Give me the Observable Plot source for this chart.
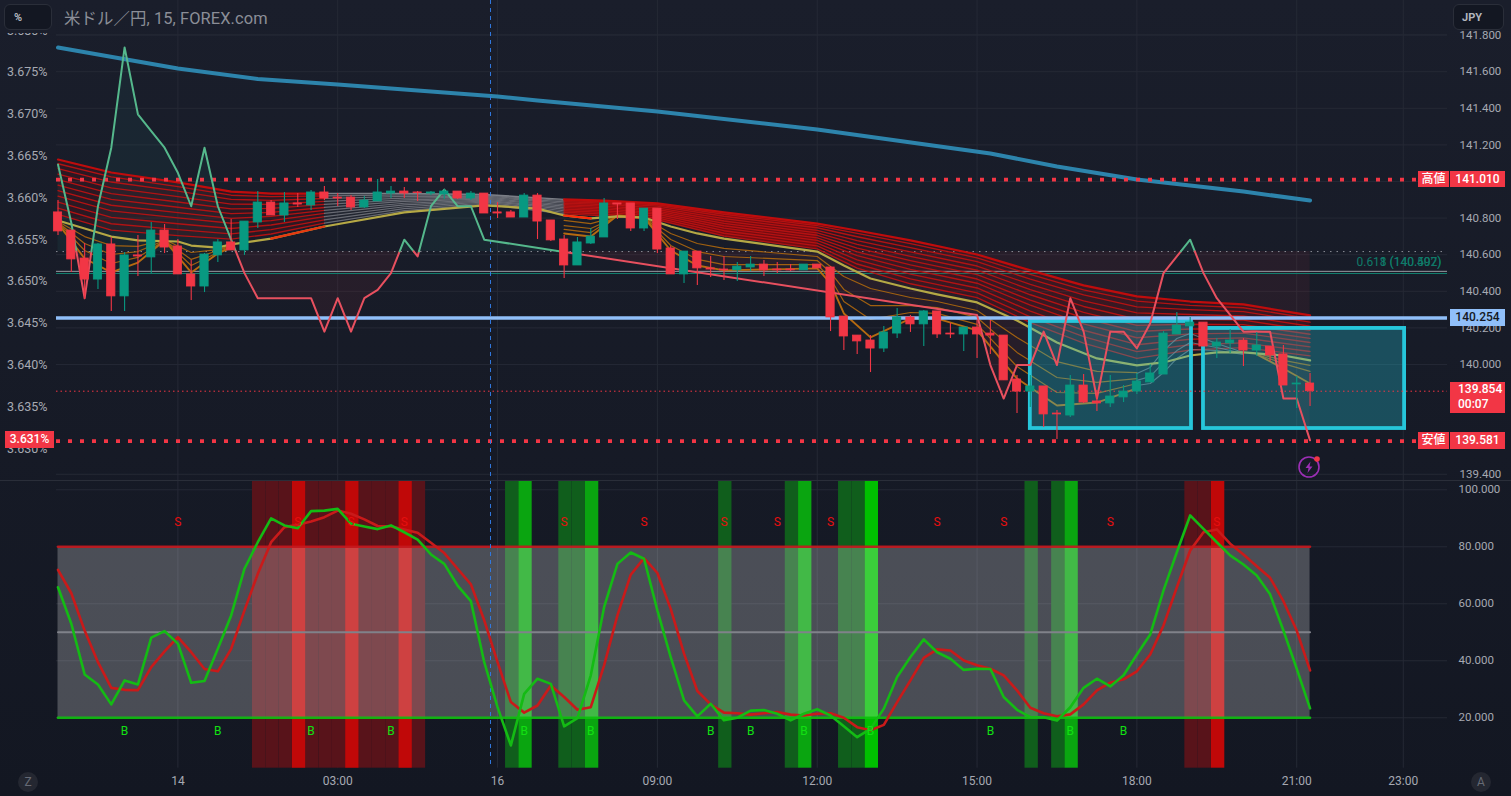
<!DOCTYPE html>
<html lang="ja"><head><meta charset="utf-8">
<script src="https://cdn.jsdelivr.net/npm/d3@7"></script>
<script src="https://cdn.jsdelivr.net/npm/@observablehq/plot@0.6"></script>
<style>
html,body{margin:0;padding:0;width:1511px;height:796px;overflow:hidden;background:linear-gradient(180deg,#1a1e2b 0%,#131722 100%);font-family:Roboto,"Noto Sans CJK JP",sans-serif}
#stage{position:relative;width:1511px;height:796px}
#stage svg.plot-pane,#stage>div.pane{position:absolute;left:0}
.tag{position:absolute;box-sizing:border-box;display:flex;align-items:center;justify-content:center;font-size:12px;font-weight:500;color:#fff;background:#f23645;white-space:pre;line-height:15px;text-align:left}
.cover{position:absolute;top:0;background:#1a1e2b}
.btn{position:absolute;top:4px;height:26px;box-sizing:border-box;border:1.5px solid #2a2e39;border-radius:6px;background:#131722;color:#b2b5be;font-size:11px;font-weight:700;display:flex;align-items:center}
#title{position:absolute;left:64px;top:8px;font-size:16.4px;line-height:22px;color:#8b8e97;letter-spacing:.1px}
.round{position:absolute;width:20px;height:20px;border-radius:50%;background:#242731;color:#666a75;font-size:12px;display:flex;align-items:center;justify-content:center}
</style></head><body><div id="stage"></div>
<script>
// ---------- price candles (USD/JPY, 15 min) ----------
const opens=[140.831,140.732,140.579,140.464,140.656,140.372,140.596,140.585,140.732,140.645,
140.492,140.426,140.596,140.667,140.623,140.776,140.885,140.814,140.880,140.869,
140.940,140.912,140.912,140.858,140.891,140.934,140.945,140.940,140.934,140.929,
140.945,140.907,140.934,140.831,140.831,140.803,140.923,140.787,140.683,140.541,
140.661,140.694,140.880,140.880,140.743,140.852,140.634,140.492,140.617,140.525,
140.519,140.514,140.530,140.546,140.519,140.519,140.514,140.546,140.530,140.262,
140.158,140.131,140.087,140.169,140.257,140.219,140.290,140.169,140.164,140.202,
140.169,140.158,139.918,139.852,139.880,139.732,139.721,139.885,139.798,139.787,
139.820,139.852,139.902,139.945,140.164,140.208,140.229,140.098,140.115,140.131,
140.076,140.098,140.055,139.891,139.896];
const highs=[140.896,140.732,140.661,140.661,140.694,140.612,140.705,140.776,140.765,140.683,
140.568,140.607,140.683,140.792,140.781,140.945,140.896,140.940,140.934,140.951,
140.973,140.934,140.923,140.918,141.011,140.973,140.967,140.945,140.945,140.956,
140.945,140.945,140.934,140.885,140.841,140.934,140.934,140.787,140.705,140.694,
140.743,140.907,140.880,140.880,140.852,140.852,140.645,140.617,140.617,140.590,
140.590,140.557,140.590,140.568,140.557,140.546,140.546,140.546,140.535,140.262,
140.158,140.158,140.208,140.306,140.268,140.295,140.290,140.224,140.202,140.240,
140.240,140.158,139.940,139.940,139.880,139.749,139.940,139.945,139.858,139.940,
139.885,139.951,140.000,140.180,140.284,140.257,140.229,140.142,140.191,140.142,
140.175,140.098,140.104,139.934,139.951];
const lows=[140.705,140.503,140.355,140.410,140.290,140.290,140.481,140.497,140.607,140.492,
140.350,140.393,140.557,140.623,140.596,140.743,140.814,140.776,140.858,140.841,
140.896,140.863,140.841,140.852,140.891,140.907,140.907,140.891,140.923,140.902,
140.902,140.896,140.825,140.798,140.803,140.803,140.683,140.672,140.470,140.541,
140.656,140.694,140.792,140.727,140.727,140.607,140.492,140.443,140.432,140.475,
140.459,140.454,140.508,140.481,140.497,140.508,140.514,140.525,140.180,140.076,
140.055,139.956,140.066,140.142,140.175,140.098,140.142,140.142,140.071,140.033,
140.055,139.913,139.732,139.765,139.656,139.590,139.710,139.787,139.743,139.765,
139.792,139.836,139.902,139.945,140.164,140.208,140.098,140.033,140.060,139.989,
140.044,140.016,139.885,139.760,139.771];
const closes=[140.727,140.574,140.464,140.656,140.372,140.596,140.590,140.732,140.639,140.492,
140.426,140.601,140.667,140.623,140.781,140.885,140.814,140.880,140.874,140.940,
140.907,140.907,140.858,140.896,140.940,140.945,140.934,140.937,140.940,140.945,
140.907,140.934,140.825,140.825,140.803,140.923,140.781,140.678,140.541,140.667,
140.699,140.880,140.874,140.743,140.852,140.628,140.492,140.617,140.525,140.519,
140.514,140.535,140.546,140.514,140.514,140.514,140.546,140.525,140.257,140.153,
140.126,140.087,140.175,140.257,140.219,140.290,140.164,140.164,140.202,140.164,
140.158,139.913,139.852,139.880,139.727,139.727,139.885,139.792,139.787,139.825,
139.852,139.907,139.951,140.169,140.213,140.229,140.098,140.120,140.131,140.076,
140.104,140.049,139.885,139.896,139.854];

// ---------- slow moving average ----------
const maBars=[0,9,15,21,33,36,45,57,70,75,81,89,94];
const maPrice=[141.732,141.617,141.560,141.530,141.465,141.443,141.383,141.284,141.153,141.082,141.011,140.945,140.896];

// ---------- yield line (% axis) ----------
const yieldBars=[0,1,2,3,4,5,6,7,8,9,10,11,12,13,14,15,16,17,18,19,20,21,22,23,24,25,26,27,28,29,30,31,32,69,70,71,72,73,74,75,76,77,78,79,80,81,82,83,84,85,86,87,88,89,90,91,92,93,94];
const yieldPct=[3.664,3.657,3.648,3.659,3.666,3.678,3.670,3.668,3.666,3.663,3.659,3.666,3.659,3.655,3.651,3.648,3.648,3.648,3.648,3.648,3.644,3.648,3.644,3.648,3.649,3.651,3.655,3.653,3.659,3.661,3.659,3.659,3.655,3.646,3.640,3.636,3.640,3.640,3.644,3.640,3.648,3.644,3.636,3.644,3.644,3.642,3.645,3.651,3.653,3.655,3.651,3.648,3.646,3.644,3.644,3.644,3.636,3.636,3.631];
const yieldLevel=3.6536;
const pctTicks=[3.68,3.675,3.67,3.665,3.66,3.655,3.65,3.645,3.64,3.635,3.63];
const priceTicks=[141.8,141.6,141.4,141.2,140.8,140.6,140.4,140.2,140.0,139.4];

// ---------- moving-average ribbon ----------
const ribbonBars=[0,4,9,13,16,20,26,32,38,41,45,50,57,60,64,69,73,77,81,85,89,94];
const ribbonTop=[141.120,141.049,140.995,140.945,140.934,140.934,140.934,140.929,140.902,140.896,140.880,140.831,140.770,140.732,140.678,140.601,140.514,140.432,140.372,140.344,140.328,140.268];
const ribbon01=[141.097,141.025,140.972,140.925,140.917,140.921,140.927,140.925,140.896,140.889,140.873,140.821,140.759,140.716,140.660,140.583,140.492,140.408,140.346,140.323,140.310,140.251];
const ribbon02=[141.070,140.997,140.947,140.902,140.897,140.907,140.919,140.920,140.889,140.882,140.865,140.810,140.747,140.698,140.639,140.562,140.466,140.380,140.315,140.300,140.289,140.231];
const ribbon03=[141.040,140.965,140.917,140.876,140.875,140.891,140.909,140.915,140.881,140.874,140.856,140.797,140.733,140.677,140.615,140.538,140.438,140.348,140.282,140.273,140.265,140.209];
const ribbon04=[141.010,140.934,140.888,140.850,140.853,140.875,140.900,140.909,140.873,140.865,140.847,140.784,140.719,140.656,140.591,140.515,140.409,140.317,140.248,140.247,140.242,140.187];
const ribbon05=[140.980,140.902,140.859,140.824,140.831,140.858,140.891,140.904,140.865,140.857,140.838,140.771,140.706,140.636,140.568,140.491,140.381,140.285,140.214,140.220,140.218,140.165];
const ribbon06=[140.950,140.870,140.830,140.798,140.809,140.842,140.881,140.898,140.857,140.849,140.830,140.758,140.692,140.615,140.544,140.467,140.352,140.254,140.180,140.194,140.194,140.143];
const ribbon07=[140.920,140.839,140.801,140.772,140.786,140.826,140.872,140.893,140.849,140.840,140.821,140.745,140.678,140.595,140.520,140.444,140.324,140.222,140.146,140.167,140.171,140.120];
const ribbon08=[140.887,140.804,140.769,140.743,140.762,140.808,140.862,140.887,140.840,140.831,140.811,140.731,140.663,140.572,140.494,140.418,140.292,140.187,140.108,140.138,140.145,140.096];
const ribbon09=[140.854,140.769,140.737,140.714,140.737,140.790,140.852,140.881,140.832,140.822,140.801,140.717,140.648,140.549,140.468,140.391,140.260,140.152,140.070,140.108,140.118,140.071];
const ribbon10=[140.820,140.734,140.704,140.685,140.713,140.772,140.841,140.875,140.823,140.812,140.791,140.702,140.632,140.526,140.441,140.365,140.229,140.117,140.033,140.079,140.092,140.047];
const ribbonInner=[ribbon01,ribbon02,ribbon03,ribbon04,ribbon05,ribbon06,ribbon07,ribbon08,ribbon09,ribbon10];
const yellowBars=[0,2,4,6,9,10,12,13,16,20,26,32,36,38,40,42,44,46,48,50,57,58,59,61,64,66,69,72,75,78,81,83,85,87,89,92,94];
const yellowPrice=[140.787,140.743,140.699,140.678,140.672,140.650,140.639,140.656,140.688,140.754,140.831,140.869,140.852,140.814,140.798,140.809,140.803,140.754,140.716,140.688,140.617,140.579,140.541,140.470,140.415,140.383,140.339,140.240,140.120,140.033,139.995,140.011,140.049,140.066,140.066,140.049,140.022];

// orange fast lines, three stretches
const orangeBarsA=[0,2,4,6,8,10,12,13];
const orangeA1=[140.781,140.699,140.650,140.645,140.683,140.612,140.628,140.650];
const orangeA2=[140.776,140.661,140.601,140.617,140.678,140.574,140.623,140.645];
const orangeA3=[140.776,140.623,140.552,140.585,140.678,140.541,140.612,140.645];
const orangeA4=[140.770,140.579,140.503,140.557,140.678,140.503,140.607,140.639];
const orangeBarsB=[38,40,42,44,46,48,50,57,58,59,61,64,66,69,72,75,78,81];
const orangeB1=[140.787,140.770,140.809,140.803,140.716,140.661,140.634,140.590,140.535,140.481,140.415,140.366,140.344,140.295,140.148,140.016,139.962,139.956];
const orangeB2=[140.759,140.743,140.809,140.803,140.683,140.617,140.590,140.568,140.503,140.410,140.322,140.322,140.311,140.257,140.066,139.929,139.902,139.923];
const orangeB3=[140.738,140.721,140.814,140.803,140.650,140.574,140.546,140.546,140.470,140.344,140.246,140.284,140.279,140.219,139.989,139.847,139.842,139.896];
const orangeB4=[140.716,140.699,140.814,140.803,140.623,140.541,140.514,140.525,140.443,140.279,140.148,140.251,140.251,140.186,139.923,139.776,139.792,139.869];
const orangeBarsC=[90,92,94];
const orangeC1=[140.060,140.022,139.995];
const orangeC2=[140.055,140.005,139.962];
const orangeC3=[140.055,139.978,139.896];
// gray lines where the fast averages cross above
const grayBars=[81,82,83,84,85,87,89];
const gray1=[139.951,139.984,140.076,140.142,140.169,140.115,140.066];
const gray2=[139.913,139.934,140.011,140.076,140.120,140.093,140.060];
const gray3=[139.885,139.896,139.956,140.033,140.082,140.076,140.055];

// ---------- levels ----------
const highLevel=141.010, lowLevel=139.581, lastPrice=139.854, blueLevel=140.254;
const fibLevels=[140.509,140.497], fibDotted=140.617;
const boxes=[{x1:73,x2:85.1,y1:139.650,y2:140.235},{x1:86,x2:101.1,y1:139.650,y2:140.197}];
const sessionBar=32.47;
const gridBars=[9,21,33,45,57,69,81,93,101];
const gridLabels=["14","03:00","16","09:00","12:00","15:00","18:00","21:00","23:00"];

// ---------- stochastic ----------
const stochK=[65.8,53,35.2,31.7,24.7,33.1,31.7,48.1,50.4,46,32.3,32.9,44.2,55.9,72.3,81.6,90,87.5,86.5,92.5,92.7,93.3,88.1,87.1,86.2,87.5,85.1,82.5,77.3,74,66.4,60.9,39.5,23.7,10.3,28.4,33.7,31.9,17,19.9,34.9,58.8,74,78,75.8,57.7,41.3,26.1,20.5,24.9,19.1,20,22.5,22.7,21.4,19.1,21.4,23,20.8,17,13.2,16.1,23.2,34.3,41.3,47.5,43,40.7,36.8,37.2,37.1,27.3,22.8,20.2,20.2,19,23.7,30.5,33.7,31,34.9,42.2,49.2,64.7,78.1,91,86.3,81.6,77,73.8,69.9,63.3,50.6,37.2,23.3];
const stochD=[71.9,63.7,50.6,39.5,30.5,29.8,29.7,37.8,43.3,48.3,43,37.1,36.3,44.2,57.7,70.5,81.6,86.9,87.7,88.9,90.4,92.7,91.6,89.6,87.3,87.1,86.1,84.9,81.4,77.8,72.3,66.8,54.2,39.5,25.5,21.8,24.3,31.3,27.3,22.8,23.7,38.4,55.9,70.2,76,70.8,58.2,42.5,29.4,24.7,21.8,21.6,21.1,21.6,22,21.1,20.8,21.4,21.6,20,16.7,15.6,17.5,25.5,33.1,41,44,43.6,40.1,38.4,37.2,34.9,29.6,23.5,21.6,20.5,21.2,24.7,29.6,32.3,33.5,36.3,42.2,52.4,65.8,78.7,85.1,86.1,81.1,77.3,73.2,69.1,60.9,50.6,36.6];
const darkRedBars=[15,16,17,18,19,20,21,22,23,24,25,26,27,85,86];
const brightRedBars=[18,22,26,87];
const darkGreenBars=[34,38,39,50,55,59,60,73,75];
const brightGreenBars=[35,40,56,76];
const vividGreenBars=[61];
const sellBars=[9,18,22,26,38,44,50,54,58,66,71,79,87];
const buyBars=[5,12,19,25,35,40,49,52,56,61,70,76,80];
const oscTicks=[100,80,60,40,20];

// ---------- helpers ----------
const bars=d3.range(closes.length);
const xDomain=[-0.113,104.32];
const toPrice=p=>141.5956+(p-3.675)*45.683;          // % axis aligned onto the price scale
const gridColor="#252935", axisColor="#a6a9b2", RED="#f23645", TEAL="#089981";
const pts=(xs,ys)=>xs.map((x,i)=>({x,y:ys[i]}));
const seg=(xs,ys,from,to,o)=>Plot.line(pts(xs,ys).filter(d=>d.x>=from&&d.x<=to),{x:"x",y:"y",...o});

// split the yield line where it crosses its level
function splitYield(){
  const out=[];let cur=[];let above=null;
  yieldBars.forEach((x,i)=>{
    const v=yieldPct[i],a=v>=yieldLevel;
    if(above!==null&&a!==above){
      const x0=yieldBars[i-1],v0=yieldPct[i-1];
      const cx=x0+(yieldLevel-v0)/(v-v0)*(x-x0);
      cur.push({x:cx,v:yieldLevel});out.push({above,points:cur});cur=[{x:cx,v:yieldLevel}];
    }
    cur.push({x,v});above=a;
  });
  out.push({above,points:cur});
  return out;
}
const yieldSegs=splitYield();

const ribbonMarks=[];
const redLine={stroke:"#b81212",strokeWidth:1.35,strokeOpacity:.95};
const grayLine={stroke:"#74777f",strokeWidth:1.2,strokeOpacity:.85};
const ribbonRows=ribbonBars.map((x,i)=>({x,t:ribbonTop[i],b:ribbon10[i]}));
ribbonMarks.push(
  Plot.areaY(ribbonRows.filter(d=>d.x<=20),{x:"x",y1:"t",y2:"b",fill:"#a00000",fillOpacity:.14}),
  Plot.areaY(ribbonRows.filter(d=>d.x>=38&&d.x<=57),{x:"x",y1:"t",y2:"b",fill:"#c00000",fillOpacity:.55}),
  Plot.areaY(ribbonRows.filter(d=>d.x>=57),{x:"x",y1:"t",y2:"b",fill:"#a00000",fillOpacity:.15}),
  Plot.areaY(ribbonRows.filter(d=>d.x>=20&&d.x<=38),{x:"x",y1:"t",y2:"b",fill:"#777",fillOpacity:.1})
);
for(const r of ribbonInner){
  ribbonMarks.push(seg(ribbonBars,r,0,20,redLine),seg(ribbonBars,r,20,38,grayLine),seg(ribbonBars,r,38,94,redLine));
}
const orangeStyle={stroke:"#a8640f",strokeWidth:1.2,strokeOpacity:.95};
for(const r of [orangeA1,orangeA2,orangeA3]) ribbonMarks.push(seg(orangeBarsA,r,0,13,orangeStyle));
ribbonMarks.push(seg(orangeBarsA,orangeA4,0,13,{stroke:"#b56a10",strokeWidth:1.9}));
for(const r of [orangeB1,orangeB2,orangeB3]) ribbonMarks.push(seg(orangeBarsB,r,38,81,orangeStyle));
ribbonMarks.push(seg(orangeBarsB,orangeB4,38,81,{stroke:"#b56a10",strokeWidth:1.9}));
for(const r of [orangeC1,orangeC2]) ribbonMarks.push(seg(orangeBarsC,r,90,94,orangeStyle));
ribbonMarks.push(seg(orangeBarsC,orangeC3,90,94,{stroke:"#b56a10",strokeWidth:1.9}));
for(const r of [gray1,gray2,gray3]) ribbonMarks.push(seg(grayBars,r,81,89,{stroke:"#80838b",strokeWidth:1.1,strokeOpacity:.75}));
ribbonMarks.push(
  seg(ribbonBars,ribbonTop,0,20,{stroke:"#c00c0c",strokeWidth:2.2}),
  seg(ribbonBars,ribbonTop,20,38,{stroke:"#7b7e86",strokeWidth:1.4}),
  seg(ribbonBars,ribbonTop,38,94,{stroke:"#c00c0c",strokeWidth:2.2}),
  seg(yellowBars,yellowPrice,0,94,{stroke:"#b5a845",strokeWidth:2.2}),
  seg(yellowBars,yellowPrice,16,20,{stroke:"#e8380f",strokeWidth:2.2}),
  seg(yellowBars,yellowPrice,38,40,{stroke:"#ff2a08",strokeWidth:2.2})
);

const candleRows=bars.map(i=>({i,o:opens[i],h:highs[i],l:lows[i],c:closes[i]}));
const upRows=candleRows.filter(d=>d.c>d.o), downRows=candleRows.filter(d=>d.c<=d.o);
const candleMarks=[[upRows,TEAL],[downRows,RED]].flatMap(([rows,col])=>[
  Plot.ruleX(rows,{x:"i",y1:"l",y2:"h",stroke:col,strokeWidth:1.1}),
  Plot.rect(rows,{x1:d=>d.i-.31,x2:d=>d.i+.31,y1:"o",y2:"c",fill:col,stroke:col,strokeWidth:.8})
]);

// ---------- upper pane ----------
const topPane=Plot.plot({
  width:1511,height:480,marginLeft:56,marginRight:64,marginTop:0,marginBottom:0,
  style:{background:"transparent",fontFamily:"Roboto",fontSize:"12px",overflow:"visible"},
  x:{domain:xDomain,axis:null},
  y:{domain:[139.366,141.989]},
  marks:[
    Plot.ruleY([...priceTicks,141.0],{stroke:gridColor,strokeWidth:1}),
    Plot.ruleY([toPrice(3.6795)],{stroke:gridColor,strokeWidth:1}),
    Plot.ruleX(gridBars,{stroke:gridColor,strokeWidth:1}),
    ...yieldSegs.map(s=>Plot.areaY(s.points,{x:"x",y1:()=>toPrice(yieldLevel),y2:d=>toPrice(d.v),fill:s.above?"#2fa89a":"#f23645",fillOpacity:.07})),
    Plot.ruleY([fibDotted],{stroke:"#8a8d96",strokeWidth:1,strokeDasharray:"1.5 5"}),
    Plot.ruleY([fibLevels[0]],{stroke:"#9a9da4",strokeWidth:1}),
    Plot.ruleY([fibLevels[1]],{stroke:"#12806f",strokeWidth:1}),
    ...ribbonMarks,
    Plot.line(pts(maBars,maPrice),{x:"x",y:"y",stroke:"#2d84ac",strokeWidth:4}),
    Plot.rect(boxes,{x1:"x1",x2:"x2",y1:"y1",y2:"y2",fill:"#26c6da",fillOpacity:.3,stroke:"#26c6da",strokeWidth:3.8}),
    Plot.ruleY([blueLevel],{stroke:"#90bff9",strokeWidth:3.6}),
    Plot.ruleY([highLevel,lowLevel],{stroke:RED,strokeWidth:3.6,strokeDasharray:"4 8"}),
    Plot.ruleY([lastPrice],{stroke:RED,strokeWidth:1,strokeDasharray:"1.5 3"}),
    Plot.ruleX([sessionBar],{stroke:"#3179e0",strokeWidth:1,strokeDasharray:"4 4"}),
    ...yieldSegs.map(s=>Plot.line(s.points,{x:"x",y:d=>toPrice(d.v),stroke:s.above?"#55b88c":"#e8505f",strokeWidth:2})),
    ...candleMarks,
    Plot.text(["0.618 (140.502)"],{frameAnchor:"right",dx:-6,y:()=>140.56,text:d=>d,fill:"#0f7a69",textAnchor:"end",fontSize:12}),
    Plot.text(["1 (140.497)"],{frameAnchor:"right",dx:-6,y:()=>140.56,text:d=>d,fill:"#0f7a69",textAnchor:"end",fontSize:12}),
    Plot.text(pctTicks,{frameAnchor:"left",dx:-9,y:d=>toPrice(d),text:d=>d.toFixed(3)+"%",fill:axisColor,textAnchor:"end",fontSize:12.5}),
    Plot.axisY(priceTicks,{anchor:"right",tickSize:0,tickPadding:12,tickFormat:d=>d.toFixed(3),fontSize:11.5,color:axisColor,label:null})
  ]
});
topPane.classList.add("plot-pane");topPane.style.top="0";

// ---------- lower pane ----------
const bandColumns=(list,color)=>Plot.rect(list,{x1:d=>d-.4,x2:d=>d+.6,fill:color});
const xOf=xs=>xs.map((y,x)=>({x,y}));
const lowPane=Plot.plot({
  width:1511,height:316,marginLeft:56,marginRight:64,marginTop:0,marginBottom:28.3,
  style:{background:"transparent",fontFamily:"Roboto",fontSize:"12px",overflow:"visible"},
  x:{domain:xDomain},
  y:{domain:[2.3,103.26]},
  marks:[
    Plot.ruleY(oscTicks,{stroke:gridColor,strokeWidth:1}),
    Plot.ruleX(gridBars,{stroke:gridColor,strokeWidth:1}),
    bandColumns(darkRedBars,"#58131a"),
    bandColumns(brightRedBars,"#c00808"),
    bandColumns(darkGreenBars,"#105e1c"),
    bandColumns(brightGreenBars,"#0aa510"),
    bandColumns(vividGreenBars,"#00c000"),
    Plot.rect([{x1:0,x2:94,y1:20,y2:80}],{x1:"x1",x2:"x2",y1:"y1",y2:"y2",fill:"#fff",fillOpacity:.23}),
    Plot.line([{x:0,y:50},{x:94,y:50}],{x:"x",y:"y",stroke:"#80828a",strokeWidth:2}),
    Plot.line([{x:0,y:80},{x:94,y:80}],{x:"x",y:"y",stroke:"#c4161c",strokeWidth:2.6,strokeOpacity:.9}),
    Plot.line([{x:0,y:20},{x:94,y:20}],{x:"x",y:"y",stroke:"#0ec20e",strokeWidth:2.6,strokeOpacity:.9}),
    Plot.ruleX([sessionBar],{stroke:"#3179e0",strokeWidth:1,strokeDasharray:"4 4"}),
    Plot.line(xOf(stochD),{x:"x",y:"y",stroke:"#c91a1a",strokeWidth:2.6}),
    Plot.line(xOf(stochK),{x:"x",y:"y",stroke:"#14bb14",strokeWidth:2.6}),
    Plot.text(sellBars,{x:d=>d,y:()=>88.5,text:()=>"S",fill:"#e60f0f",fontSize:12}),
    Plot.text(buyBars,{x:d=>d,y:()=>15.2,text:()=>"B",fill:"#12e012",fontSize:12}),
    Plot.axisY(oscTicks,{anchor:"right",tickSize:0,tickPadding:11,tickFormat:d=>d.toFixed(3),fontSize:11.5,color:axisColor,label:null}),
    Plot.axisX(gridBars,{anchor:"bottom",tickSize:0,tickPadding:8,tickFormat:(d,i)=>gridLabels[gridBars.indexOf(d)],fontSize:12,color:axisColor,label:null})
  ]
});
lowPane.classList.add("plot-pane");lowPane.style.top="480px";

// ---------- page furniture ----------
const stage=document.getElementById("stage");
stage.append(topPane,lowPane);
const sep=document.createElement("div");
sep.style.cssText="position:absolute;left:0;top:480px;width:1511px;height:1px;background:#2a2e39";
stage.append(sep);
const add=(cls,css,txt)=>{const e=document.createElement("div");e.className=cls;e.style.cssText=css;if(txt!=null)e.textContent=txt;stage.append(e);return e};
add("cover","left:0;width:56px;height:33px");
add("cover","left:1447px;width:64px;height:30px");
add("btn","left:4px;width:48px;padding-left:9px","%");
add("btn","left:1453px;width:51px;padding-left:8px","JPY");
const title=document.createElement("div");title.id="title";title.textContent="米ドル／円, 15, FOREX.com";stage.append(title);
const yAt=p=>topPane.scale("y").apply(p);
const tag=(price,txt,left,w,h,bg,fg)=>add("tag",`left:${left}px;top:${yAt(price)-h/2}px;width:${w}px;height:${h}px;background:${bg};color:${fg};`,txt);
tag(highLevel,"高値",1418,31,16,RED,"#fff");
tag(highLevel,"141.010",1450,55,16,RED,"#fff");
tag(lowLevel,"安値",1418,31,17,RED,"#fff");
tag(lowLevel,"139.581",1450,55,17,RED,"#fff");
tag(blueLevel,"140.254",1450,55,17,"#90bff9","#131722");
add("tag",`left:1450px;top:${yAt(lastPrice)-9}px;width:55px;height:31px;justify-content:flex-start;padding-left:8px;flex-direction:row`,"139.854\n00:07");
tag(toPrice(3.631),"3.631%",5,49,17,RED,"#fff");
add("round","left:18px;top:772px","Z");
add("round","left:1471px;top:772px","A");
const bolt=document.createElement("div");
bolt.style.cssText="position:absolute;left:1297px;top:454px;width:26px;height:26px";
bolt.innerHTML='<svg width="26" height="26" viewBox="0 0 26 26"><circle cx="12" cy="13" r="10" fill="none" stroke="#9c2fb5" stroke-width="1.6"/><path d="M13.5 7.5 8.5 14h3l-1 5 5-6.5h-3z" fill="#9c2fb5"/><circle cx="20" cy="5" r="2.8" fill="#f23645"/></svg>';
stage.append(bolt);
</script></body></html>
